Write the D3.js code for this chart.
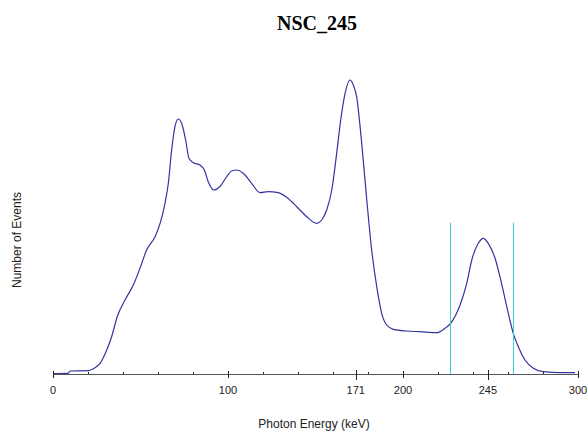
<!DOCTYPE html>
<html>
<head>
<meta charset="utf-8">
<script src="https://cdn.jsdelivr.net/npm/d3@7"></script>
<style>
  body { margin: 0; background: #fff; }
  svg { display: block; }
</style>
</head>
<body>
<svg id="chart" width="588" height="434"></svg>
<script>
// spectrum: photon energy (keV) and counts
const energy = [0, 8.7, 9.7, 20.2, 23, 26.9, 30.7, 33.5, 36.7, 41.7, 45.9, 49.7, 53.5, 58.3, 61.5, 64,
  65.9, 67.8, 69.7, 71.6, 73.5, 75.8, 77.7, 80.2, 84, 86.5, 88.7, 92, 95.4, 99.3, 102.1, 105, 108.7,
  113.5, 118.3, 123, 128.7, 133.5, 139.3, 145, 150.7, 153.5, 156.4, 159.3, 162.1, 164.4, 166.9, 169.7,
  171.6, 173.5, 176.4, 179.3, 182.1, 185, 187.8, 190.7, 194.5, 202.1, 209.7, 219.3, 224, 226.9, 232.6,
  236.4, 239.3, 243, 245.9, 248.7, 252.6, 255.4, 259.3, 263, 265.9, 269.7, 274.5, 280.2, 289.7, 298.3];
const counts = [5, 7, 30, 33, 53, 107, 240, 373, 573, 757, 890, 1057, 1240, 1373, 1523, 1707,
  1907, 2240, 2473, 2550, 2507, 2340, 2157, 2113, 2090, 2040, 1923, 1840, 1875, 1975, 2030, 2040, 2007,
  1907, 1813, 1823, 1813, 1767, 1673, 1573, 1507, 1540, 1640, 1840, 2207, 2540, 2807, 2940,
  2890, 2773, 2307, 1740, 1240, 873, 607, 490, 447, 430, 423, 413, 457, 500, 690,
  907, 1140, 1307, 1357, 1307, 1157, 973, 673, 407, 273, 140, 57, 23, 13, 13];

// region of interest markers (cyan)
const roiBounds = [226.9, 263];
const roiTop = 1513;

// labelled ticks: where they sit on the axis and what they say
const majorTickPos = [0, 100, 173, 200, 248.5, 300];
const majorTickLabels = ["0", "100", "171", "200", "245", "300"];
const minorTicks = [20, 40, 60, 80, 120, 140, 160, 180, 220, 240, 260, 280];

const svg = d3.select("#chart");
const left = 53, right = 578, base = 374;

const x = d3.scaleLinear().domain([0, 300]).range([left, right]);
const y = d3.scaleLinear().domain([0, 3000]).range([base, 74]);

svg.append("text")
  .attr("x", 317).attr("y", 30)
  .attr("text-anchor", "middle")
  .style("font-family", "'Liberation Serif', 'Times New Roman', serif")
  .style("font-weight", "bold")
  .style("font-size", "20px")
  .text("NSC_245");

// spectrum line
const pts = energy.map((e, i) => [e, counts[i]]);
svg.append("path")
  .datum(pts)
  .attr("fill", "none")
  .attr("stroke", "#3434a0")
  .attr("stroke-width", 1.2)
  .attr("d", d3.line().x(d => x(d[0])).y(d => y(d[1])).curve(d3.curveMonotoneX));

svg.selectAll("line.roi")
  .data(roiBounds)
  .join("line")
  .attr("class", "roi")
  .attr("x1", d => Math.round(x(d)) + 0.5).attr("x2", d => Math.round(x(d)) + 0.5)
  .attr("y1", y(roiTop)).attr("y2", base)
  .attr("stroke", "#3cd2d2")
  .attr("stroke-width", 1);

// x axis
const axis = svg.append("g");
axis.append("line")
  .attr("x1", left).attr("x2", right)
  .attr("y1", base + 0.5).attr("y2", base + 0.5)
  .attr("stroke", "#555").attr("stroke-width", 1);

axis.selectAll("line.minor")
  .data(minorTicks)
  .join("line")
  .attr("class", "minor")
  .attr("x1", d => Math.round(x(d)) + 0.5).attr("x2", d => Math.round(x(d)) + 0.5)
  .attr("y1", base - 2).attr("y2", base)
  .attr("stroke", "#222");

axis.selectAll("line.major")
  .data(majorTickPos)
  .join("line")
  .attr("class", "major")
  .attr("x1", d => Math.round(x(d)) + 0.5).attr("x2", d => Math.round(x(d)) + 0.5)
  .attr("y1", (d, i) => (i === 2 || i === 4) ? base - 4 : base - 3)
  .attr("y2", (d, i) => (i === 2 || i === 4) ? base + 6 : base + 4)
  .attr("stroke", "#222");

axis.selectAll("text")
  .data(majorTickPos)
  .join("text")
  .attr("x", d => x(d)).attr("y", base + 20)
  .attr("text-anchor", "middle")
  .style("font-family", "'Liberation Sans', Arial, sans-serif")
  .style("font-size", "11px")
  .attr("fill", "#222")
  .text((d, i) => majorTickLabels[i]);

svg.append("text")
  .attr("x", 314).attr("y", 428)
  .attr("text-anchor", "middle")
  .style("font-family", "'Liberation Sans', Arial, sans-serif")
  .style("font-size", "12px")
  .attr("fill", "#222")
  .text("Photon Energy (keV)");

svg.append("text")
  .attr("transform", "translate(21,240) rotate(-90)")
  .attr("text-anchor", "middle")
  .style("font-family", "'Liberation Sans', Arial, sans-serif")
  .style("font-size", "12px")
  .attr("fill", "#222")
  .text("Number of Events");
</script>
</body>
</html>
